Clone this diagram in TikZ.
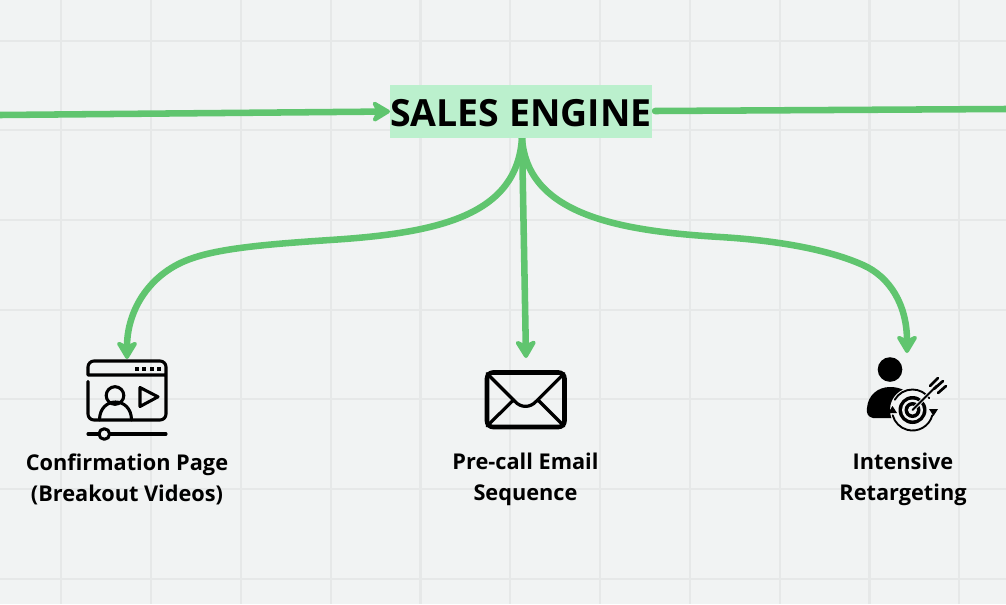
\documentclass[tikz,border=0pt]{standalone}
\usepackage{fontspec}
\setmainfont{Open Sans}
\usetikzlibrary{arrows.meta}
\definecolor{bgc}{HTML}{F1F3F3}
\definecolor{gridc}{HTML}{E6E8E8}
\definecolor{flow}{HTML}{60C56F}
\definecolor{boxc}{HTML}{BBF0CD}
\tikzset{
  x=0.75pt,y=-0.75pt,
  flowline/.style={draw=flow,line width=4.9pt,line cap=round},
  flowarrow/.style={flowline,-{Stealth[length=16pt,width=19pt,inset=4.5pt,round]}},
  gridline/.style={draw=gridc,line width=1.6pt},
  icon/.style={draw=black,line width=2.3pt,line join=round,line cap=round},
  thinicon/.style={draw=black,line width=1.4pt,line cap=round},
  label/.style={font=\bfseries\fontsize{16.3}{23.3}\selectfont,align=center,text=black,inner sep=0pt},
  title/.style={fill=boxc,font=\bfseries\fontsize{28.1}{30}\selectfont,text=black,inner sep=0pt,text height=22.2pt,text depth=0pt,minimum width=196.5pt,minimum height=39.8pt}
}
\begin{document}
\begin{tikzpicture}
\useasboundingbox (0,0) rectangle (1006,604);
\fill[bgc] (0,0) rectangle (1006,604);
\foreach \gx in {61,151,241,331,420.5,510,600,690,780,869.5,959}
  \draw[gridline] (\gx,0) -- (\gx,604);
\foreach \gy in {41,130,220,310,399,489,579}
  \draw[gridline] (0,\gy) -- (1006,\gy);

\coordinate (leftEnd) at (0,115);
\coordinate (rightEnd) at (1006,109);
\coordinate (confirmTop) at (127,359);
\coordinate (emailTop) at (526,358);
\coordinate (targetTop) at (907,353);

\draw[flowline] (655,111) -- (rightEnd);
\draw[flowarrow] (leftEnd) -- (390,111.5);
\draw[flowarrow] (522,138) .. controls (517,215) and (440,233) .. (330,240)
   .. controls (270,244) and (222,248) .. (193,258)
   .. controls (150,272) and (127,310) .. (confirmTop);
\draw[flowarrow] (522,138) -- (emailTop);
\draw[flowarrow] (522,138) .. controls (527,215) and (620,231) .. (720,237)
   .. controls (770,240) and (825,248) .. (863,265)
   .. controls (890,277) and (907,305) .. (targetTop);

\node[title] (engine) at (521,111.5) {SALES ENGINE};

% video page icon
\draw[icon] (88,381.5) -- (88,414) arc[start angle=180,end angle=90,radius=6] -- (160,420)
   arc[start angle=90,end angle=0,radius=6] -- (166,367) arc[start angle=0,end angle=-90,radius=6]
   -- (94,361) arc[start angle=270,end angle=180,radius=6] -- (88,375) -- (166,375);
\foreach \dx in {136.7,144.2,151.7,159}
  \fill[black] (\dx-2,367) rectangle (\dx+2,371);
\draw[icon] (115,395.5) circle[radius=8.8];
\draw[icon] (99.5,420) .. controls (99.5,396) and (131.5,396) .. (131.5,420);
\draw[icon] (140,387.5) -- (140,406.5) -- (158,396.8) -- cycle;
\draw[icon] (88,434) -- (166,434);
\draw[icon,fill=bgc] (104.3,434) circle[radius=5.3];

% envelope icon
\draw[draw=black,line width=3.4pt,rounded corners=4.5pt] (487,372.5) rectangle (564.5,427);
\draw[thinicon,line width=2.4pt] (487,373.5) -- (515,401.5) .. controls (521,408) and (530,408) .. (536,401.5) -- (564,373.5);
\draw[thinicon,line width=2.4pt] (487,426) -- (513.5,400);
\draw[thinicon,line width=2.4pt] (564,426) -- (538,400);

% target person icon
\fill[black] (890,369.5) circle[radius=12.3];
\fill[black] (867,408) .. controls (868,395) and (878,387) .. (890,387) .. controls (900,387) and (908,391) .. (914,398)
   -- (905,418) -- (873,418) .. controls (868,417) and (866,413) .. (867,408) -- cycle;
\fill[bgc] (912.5,410) circle[radius=22.5];
\draw[thinicon] (912.5,410) ++(210:20.5) arc[start angle=210,end angle=325,radius=20.5];
\draw[thinicon] (912.5,410) ++(15:20.5) arc[start angle=15,end angle=165,radius=20.5];
\fill[black] (929,409) -- (938,409) -- (933.5,416) -- cycle;
\fill[black] (888,413) -- (897,413) -- (892.5,406) -- cycle;
\fill[black] (912.5,410) circle[radius=14];
\fill[bgc] (912.5,410) circle[radius=10.5];
\fill[black] (912.5,410) circle[radius=8];
\fill[bgc] (912.5,410) circle[radius=4.5];
\draw[draw=bgc,line width=2.8pt] (912.5,410) -- (935,387.5);
\draw[thinicon,line width=1.5pt] (912.5,410) -- (937,385.5);
\draw[thinicon,line width=2pt] (930,386) -- (938,378);
\draw[thinicon,line width=2pt] (934,389) -- (943,381);
\draw[thinicon,line width=2pt] (938,393) -- (946,386);

\node[label] (confirm) at (127,479) {Confirmation Page\\(Breakout Videos)};
\node[label] (email) at (525.5,479) {Pre-call Email\\Sequence};
\node[label] (retarget) at (903,479) {Intensive\\Retargeting};
\end{tikzpicture}
\end{document}
